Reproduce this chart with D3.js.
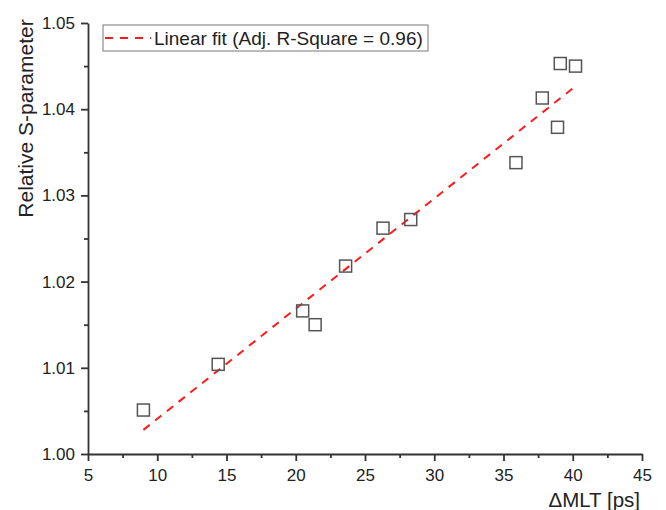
<!doctype html>
<html>
<head>
<meta charset="utf-8">
<script src="https://cdnjs.cloudflare.com/ajax/libs/d3/7.8.5/d3.min.js"></script>
<style>
    body { margin: 0; background: #fff; }
    svg text { font-family: "Liberation Sans", Arial, sans-serif; fill: #222; }
    .axis path, .axis line { stroke: #333; stroke-width: 1.8; }
    .axis text { font-size: 17px; }
</style>
</head>
<body>
<div id="chart"></div>
<script>
// Measured points: delta MLT [ps] vs relative S-parameter
var mlt = [9.0, 14.4, 20.5, 21.4, 23.6, 26.3, 28.3, 35.9, 37.8, 38.9, 39.1, 40.2];
var sParam = [1.0051, 1.0104, 1.0166, 1.0150, 1.0218, 1.0262, 1.0272, 1.0338, 1.0413, 1.0379, 1.0453, 1.0450];

// Fit line end points
var fitX = [9.0, 40.3];
var fitY = [1.0028, 1.0428];

var xTicks = [5, 10, 15, 20, 25, 30, 35, 40, 45];
var yTicks = [1.00, 1.01, 1.02, 1.03, 1.04, 1.05];
var legendLabel = "Linear fit (Adj. R-Square = 0.96)";

var W = 666, H = 510;
var margin = { top: 23, right: 24, bottom: 56, left: 88 };
var width = W - margin.left - margin.right,
    height = H - margin.top - margin.bottom;

var svg = d3.select("#chart").append("svg")
    .attr("width", W)
    .attr("height", H);

var g = svg.append("g")
    .attr("transform", "translate(" + margin.left + "," + margin.top + ")");

var x = d3.scaleLinear().domain([5, 45]).range([0, width]);
var y = d3.scaleLinear().domain([1.00, 1.05]).range([height, 0]);

// Minor ticks first
g.append("g")
    .attr("class", "axis")
    .attr("transform", "translate(0," + height + ")")
    .call(d3.axisBottom(x).tickValues(d3.range(7.5, 45, 5)).tickSize(4).tickFormat(""))
    .select(".domain").remove();

g.append("g")
    .attr("class", "axis")
    .call(d3.axisLeft(y).tickValues(d3.range(1.005, 1.05, 0.01)).tickSize(4).tickFormat(""))
    .select(".domain").remove();

// Major axes
g.append("g")
    .attr("class", "axis")
    .attr("transform", "translate(0," + height + ")")
    .call(d3.axisBottom(x).tickValues(xTicks).tickSize(7).tickSizeOuter(0).tickPadding(8));

g.append("g")
    .attr("class", "axis")
    .call(d3.axisLeft(y).tickValues(yTicks).tickSize(7).tickSizeOuter(0).tickPadding(6)
        .tickFormat(d3.format(".2f")));

// Axis titles
svg.append("text")
    .attr("x", 640)
    .attr("y", 507)
    .attr("text-anchor", "end")
    .style("font-size", "20.5px")
    .text("\u0394MLT [ps]");

svg.append("text")
    .attr("transform", "translate(33,118.5) rotate(-90)")
    .attr("text-anchor", "middle")
    .style("font-size", "21px")
    .text("Relative S-parameter");

// Fit line
g.append("line")
    .attr("x1", x(fitX[0])).attr("y1", y(fitY[0]))
    .attr("x2", x(fitX[1])).attr("y2", y(fitY[1]))
    .attr("stroke", "#ff1a1a")
    .attr("stroke-width", 2)
    .attr("stroke-dasharray", "8,7");

// Square markers
var s = 12;
g.selectAll("rect.pt")
    .data(mlt)
    .enter().append("rect")
    .attr("class", "pt")
    .attr("x", function(d) { return x(d) - s / 2; })
    .attr("y", function(d, i) { return y(sParam[i]) - s / 2; })
    .attr("width", s)
    .attr("height", s)
    .attr("fill", "none")
    .attr("stroke", "#555")
    .attr("stroke-width", 1.5);

// Legend
var leg = svg.append("g").attr("transform", "translate(103,25)");
leg.append("rect")
    .attr("width", 325)
    .attr("height", 26)
    .attr("fill", "#fff")
    .attr("stroke", "#777")
    .attr("stroke-width", 1);
leg.append("line")
    .attr("x1", 2).attr("x2", 48)
    .attr("y1", 13).attr("y2", 13)
    .attr("stroke", "#ff1a1a")
    .attr("stroke-width", 2)
    .attr("stroke-dasharray", "8,7");
leg.append("text")
    .attr("x", 51)
    .attr("y", 19.5)
    .style("font-size", "19px")
    .text(legendLabel);
</script>
</body>
</html>
